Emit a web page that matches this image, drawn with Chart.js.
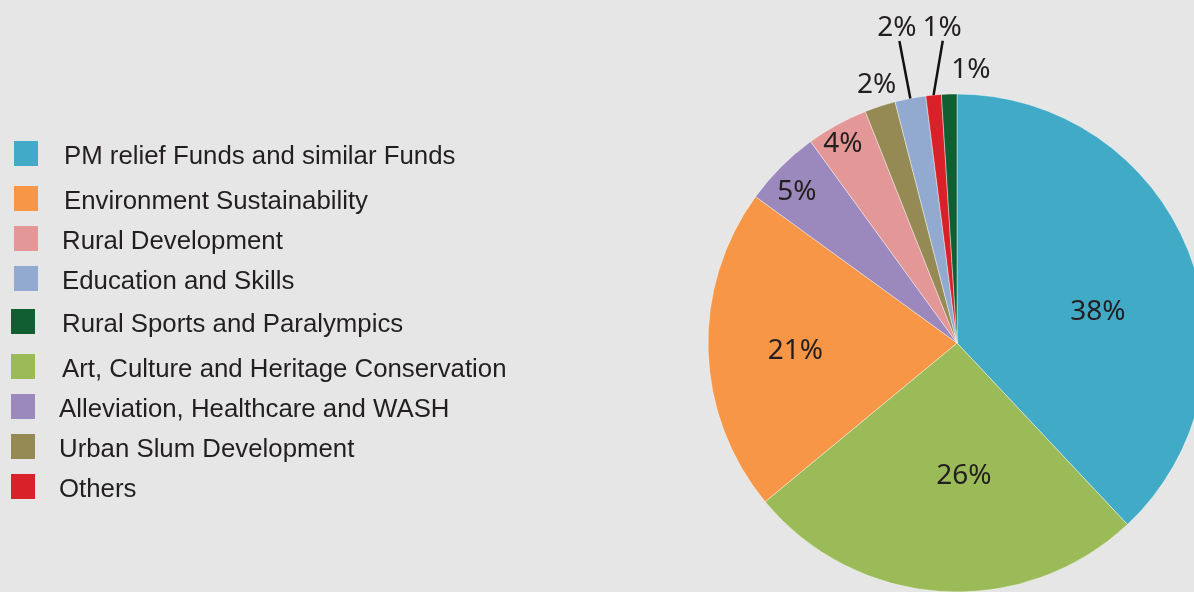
<!DOCTYPE html>
<html>
<head>
<meta charset="utf-8">
<script src="https://cdn.jsdelivr.net/npm/chart.js@4.4.1/dist/chart.umd.min.js"></script>
<style>
  html, body { margin:0; padding:0; background:#e6e6e6; width:1194px; height:592px; overflow:hidden; }
  #wrap { position:absolute; left:0; top:0; width:1300px; height:592px; }
  #legend { position:absolute; left:0; top:0; width:600px; height:592px; font-family:"Liberation Sans", Arial, sans-serif; font-size:25.8px; color:#231f20; }
  .sw { position:absolute; width:24px; height:25px; }
  .lt { position:absolute; white-space:nowrap; line-height:1; transform:translateY(-50%); }
</style>
</head>
<body>
<div id="wrap"><canvas id="c" width="1300" height="592"></canvas></div>
<div id="legend"></div>
<script>
// ---- data (slice order, clockwise from 12 o'clock) ----
const categories = [
  "PM relief Funds and similar Funds",
  "Art, Culture and Heritage Conservation",
  "Environment Sustainability",
  "Alleviation, Healthcare and WASH",
  "Rural Development",
  "Urban Slum Development",
  "Education and Skills",
  "Others",
  "Rural Sports and Paralympics"
];
const shares = [38, 26, 21, 5, 4, 2, 2, 1, 1];
const sliceLabels = ["38%", "26%", "21%", "5%", "4%", "2%", "2%", "1%", "1%"];
const colors = ["#41aac7", "#9bbb59", "#f79646", "#9b88bd", "#e39796", "#958a54", "#92aacf", "#d82128", "#115e33"];
const legendOrder = [
  "PM relief Funds and similar Funds",
  "Environment Sustainability",
  "Rural Development",
  "Education and Skills",
  "Rural Sports and Paralympics",
  "Art, Culture and Heritage Conservation",
  "Alleviation, Healthcare and WASH",
  "Urban Slum Development",
  "Others"
];

// ---- styling / layout ----
// label placement per slice: [angle offset from slice middle (deg), radius factor, leader line]
const labelPlacement = [
  [8.8, 0.58, false], [-6.6, 0.53, false], [-0.7, 0.65, false], [-1.5, 0.886, false],
  [-0.9, 0.925, false], [0.8, 1.09, false], [0.0, 1.29, true], [2.7, 1.27, true], [4.7, 1.10, false]
];
// legend layout: [swatch x, swatch top y, text x]
const legendLayout = [
  [14,141,64],[14,186,64],[14,226,62],[14,266,62],[11,309,62],[11,354,62],[11,394,59],[11,434,59],[11,474,59]
];

// build legend
const legendEl = document.getElementById('legend');
legendOrder.forEach((name, i) => {
  const idx = categories.indexOf(name);
  const [sx, sy, tx] = legendLayout[i];
  const sw = document.createElement('div');
  sw.className = 'sw';
  sw.style.left = sx + 'px'; sw.style.top = sy + 'px';
  sw.style.background = colors[idx];
  legendEl.appendChild(sw);
  const t = document.createElement('div');
  t.className = 'lt';
  t.style.left = tx + 'px'; t.style.top = (sy + 14.5) + 'px';
  t.textContent = name;
  legendEl.appendChild(t);
});

const labelPlugin = {
  id: 'sliceLabels',
  afterDatasetsDraw(chart) {
    const ctx = chart.ctx;
    const meta = chart.getDatasetMeta(0);
    ctx.save();
    ctx.font = '28px "Noto Sans", "Open Sans", sans-serif';
    ctx.fillStyle = '#231f20';
    ctx.textAlign = 'center';
    ctx.textBaseline = 'middle';
    meta.data.forEach((arc, i) => {
      const { x, y, startAngle, endAngle, outerRadius } = arc.getProps(['x','y','startAngle','endAngle','outerRadius'], true);
      const mid = (startAngle + endAngle) / 2;
      const [dDeg, rf, leader] = labelPlacement[i];
      const a = mid + dDeg * Math.PI / 180;
      const lx = x + Math.cos(a) * outerRadius * rf;
      const ly = y + Math.sin(a) * outerRadius * rf;
      if (leader) {
        const r0 = outerRadius * (rf - 0.055);
        ctx.beginPath();
        ctx.strokeStyle = '#111';
        ctx.lineWidth = 2.5;
        ctx.moveTo(x + Math.cos(a) * r0, y + Math.sin(a) * r0);
        ctx.lineTo(x + Math.cos(mid) * outerRadius, y + Math.sin(mid) * outerRadius);
        ctx.stroke();
      }
      ctx.fillText(sliceLabels[i], lx, ly + 1);
    });
    ctx.restore();
  }
};

new Chart(document.getElementById('c'), {
  type: 'pie',
  data: {
    labels: categories,
    datasets: [{
      data: shares,
      backgroundColor: colors,
      borderColor: 'rgba(255,255,255,0.55)',
      borderWidth: 0.75,
      hoverOffset: 0
    }]
  },
  options: {
    responsive: false,
    animation: false,
    events: [],
    radius: 249,
    layout: { padding: { left: 708, top: 94, right: 94, bottom: 0 } },
    plugins: { legend: { display: false }, tooltip: { enabled: false } }
  },
  plugins: [labelPlugin]
});
</script>
</body>
</html>
